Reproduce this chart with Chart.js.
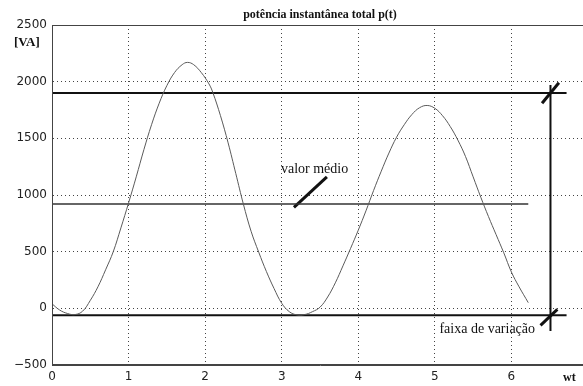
<!DOCTYPE html>
<html>
<head>
<meta charset="utf-8">
<script src="https://cdn.jsdelivr.net/npm/chart.js@4.4.1/dist/chart.umd.min.js"></script>
<style>
  html, body { margin: 0; padding: 0; background: #fff; overflow: hidden; }
  canvas { display: block; }
</style>
</head>
<body>
<canvas id="c" width="600" height="386"></canvas>
<script>
// instantaneous total power p(t) over one period of wt
const wt = [0.00, 0.10, 0.20, 0.30, 0.40, 0.50, 0.60, 0.70, 0.80, 0.90,
            1.00, 1.10, 1.20, 1.30, 1.40, 1.50, 1.60, 1.70, 1.77, 1.85,
            1.95, 2.05, 2.10, 2.20, 2.30, 2.40, 2.50, 2.60, 2.70, 2.80,
            2.90, 3.00, 3.10, 3.20, 3.30, 3.40, 3.50, 3.60, 3.70, 3.80,
            3.90, 4.00, 4.10, 4.20, 4.30, 4.40, 4.50, 4.60, 4.70, 4.80,
            4.90, 5.00, 5.10, 5.20, 5.30, 5.40, 5.50, 5.60, 5.70, 5.80,
            5.90, 6.00, 6.10, 6.22];
const pVA = [40, -15, -45, -55, -25, 70, 190, 340, 500, 710,
             930, 1160, 1400, 1620, 1810, 1965, 2080, 2150, 2170, 2150,
             2080, 1980, 1905, 1700, 1460, 1190, 918, 680, 495, 325,
             175, 45, -30, -58, -55, -30, 10, 100, 225, 375,
             530, 690, 860, 1040, 1210, 1370, 1510, 1620, 1710, 1770,
             1790, 1765, 1700, 1605, 1485, 1340, 1160, 980, 810, 650,
             490, 320, 190, 50];

// reference levels: maximum, mean ("valor médio"), minimum
const levelMax = 1900;
const levelMean = 920;
const levelMin = -60;
const levelEndWt = [6.72, 6.22, 6.72];   // where each level line stops

// "faixa de variação" range bar
const rangeWt = 6.51;
const rangeTop = 1970;
const rangeBottom = -200;

// axes
const xTicks = [0, 1, 2, 3, 4, 5, 6, 7];
const yTicks = [-500, 0, 500, 1000, 1500, 2000, 2500];

const chartTitle = 'potência instantânea total p(t)';
const yUnit = '[VA]';
const xUnit = 'wt';

const curve = wt.map((t, i) => ({ x: t, y: pVA[i] }));
const hline = (v, end) => [{ x: 0, y: v }, { x: end, y: v }];

const labelsPlugin = {
  id: 'labels',
  afterDraw(chart) {
    const { ctx, chartArea: a, scales: { x, y } } = chart;
    ctx.save();
    // axes box
    ctx.strokeStyle = '#444';
    ctx.lineWidth = 1;
    ctx.setLineDash([]);
    ctx.strokeRect(a.left + 0.5, a.top + 0.5, a.right - a.left - 1, a.bottom - a.top - 1);

    ctx.fillStyle = '#111';
    ctx.textBaseline = 'middle';
    ctx.font = 'bold 12px "Liberation Serif"';
    ctx.textAlign = 'center';
    ctx.fillText(chartTitle, (a.left + a.right) / 2, 15);

    ctx.font = 'bold 13px "Liberation Serif"';
    ctx.textAlign = 'left';
    ctx.fillText(yUnit, 14, 43);
    ctx.font = 'bold 12px "Liberation Serif"';
    ctx.fillText(xUnit, 563, 378);

    ctx.font = '14px "Liberation Serif"';
    ctx.fillText('valor médio', x.getPixelForValue(2.99), y.getPixelForValue(1230));
    ctx.fillText('faixa de variação', x.getPixelForValue(5.06), y.getPixelForValue(-185));
    ctx.restore();
  }
};

new Chart(document.getElementById('c'), {
  type: 'scatter',
  data: {
    datasets: [
      { data: curve, showLine: true, borderColor: '#5a5a5a', borderWidth: 1,
        pointRadius: 0, tension: 0.4 },
      { data: hline(levelMax, levelEndWt[0]), showLine: true, borderColor: '#111', borderWidth: 2, pointRadius: 0 },
      { data: hline(levelMean, levelEndWt[1]), showLine: true, borderColor: '#333', borderWidth: 1.5, pointRadius: 0 },
      { data: hline(levelMin, levelEndWt[2]), showLine: true, borderColor: '#111', borderWidth: 2, pointRadius: 0 },
      { data: [{ x: rangeWt, y: rangeTop }, { x: rangeWt, y: rangeBottom }], showLine: true,
        borderColor: '#111', borderWidth: 2, pointRadius: 0 },
      // slashes marking the ends of the range bar
      { data: [{ x: 6.40, y: 1810 }, { x: 6.62, y: 1990 }], showLine: true, borderColor: '#111', borderWidth: 3, pointRadius: 0 },
      { data: [{ x: 6.38, y: -150 }, { x: 6.60, y: -10 }], showLine: true, borderColor: '#111', borderWidth: 3, pointRadius: 0 },
      // pointer from "valor médio" to the mean line
      { data: [{ x: 3.59, y: 1160 }, { x: 3.16, y: 890 }], showLine: true, borderColor: '#111', borderWidth: 3, pointRadius: 0 }
    ]
  },
  options: {
    responsive: false,
    animation: false,
    layout: { padding: { top: 25, right: 12, left: 0, bottom: 0 } },
    plugins: { legend: { display: false }, tooltip: { enabled: false }, title: { display: false } },
    scales: {
      x: {
        type: 'linear', min: 0, max: 7,
        afterBuildTicks: s => { s.ticks = xTicks.map(v => ({ value: v })); },
        afterFit: s => { s.height = 21; },
        grid: { color: '#444', lineWidth: 1, drawTicks: false },
        border: { display: true, color: '#444', width: 1, dash: [1, 3] },
        ticks: { padding: 5, color: '#222', font: { family: 'DejaVu Sans', size: 12 },
                 maxRotation: 0, autoSkip: false,
                 callback: v => (v === 7 ? '' : String(v)) }
      },
      y: {
        type: 'linear', min: -500, max: 2500,
        afterBuildTicks: s => { s.ticks = yTicks.map(v => ({ value: v })); },
        afterFit: s => { s.width = 52; },
        grid: { color: '#444', lineWidth: 1, drawTicks: false },
        border: { display: true, color: '#444', width: 1, dash: [1, 3] },
        ticks: { padding: 5, color: '#222', font: { family: 'DejaVu Sans', size: 12 },
                 autoSkip: false,
                 callback: v => (v < 0 ? '\u2212' + Math.abs(v) : String(v)) }
      }
    }
  },
  plugins: [labelsPlugin]
});
</script>
</body>
</html>
